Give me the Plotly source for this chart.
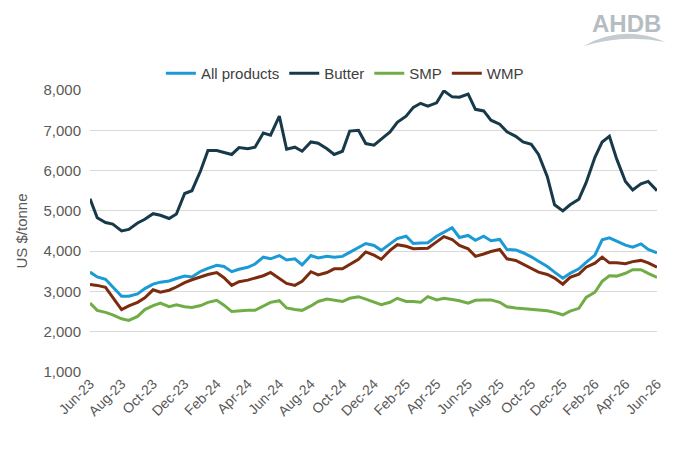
import pandas as pd
import plotly.graph_objects as go

# Semi-monthly observation dates, Jun-23 to Jun-26
dates = pd.date_range("2023-06-01", "2026-06-01", freq="SMS")

all_products = [3480, 3360, 3300, 3110, 2880, 2880, 2940, 3070, 3180, 3230, 3260, 3320, 3380, 3360, 3500,
                3570, 3650, 3620, 3490, 3550, 3600, 3680, 3850, 3810, 3890, 3780, 3810, 3660, 3890, 3830,
                3870, 3850, 3870, 3970, 4090, 4190, 4140, 4020, 4180, 4310, 4370, 4190, 4200, 4210, 4370,
                4470, 4580, 4340, 4390, 4270, 4370, 4260, 4290, 4040, 4030, 3960, 3860, 3750, 3620, 3480,
                3330, 3450, 3560, 3720, 3900, 4280, 4330, 4250, 4150, 4100, 4180, 4040, 3960]

butter = [5300, 4830, 4710, 4670, 4500, 4540, 4700, 4790, 4930, 4890, 4810, 4920, 5430, 5500, 6000,
          6500, 6500, 6460, 6400, 6570, 6540, 6580, 6930, 6880, 7350, 6530, 6580, 6480, 6710, 6680,
          6540, 6400, 6480, 6980, 7000, 6670, 6630, 6780, 6960, 7200, 7350, 7570, 7670, 7600, 7680,
          7980, 7830, 7820, 7900, 7520, 7480, 7250, 7150, 6960, 6850, 6710, 6650, 6400, 5850, 5150,
          5000, 5150, 5290, 5700, 6330, 6710, 6850, 6290, 5730, 5520, 5670, 5730, 5500]

smp = [2710, 2530, 2480, 2420, 2320, 2280, 2380, 2550, 2650, 2710, 2620, 2670, 2620, 2600, 2650,
       2730, 2780, 2660, 2500, 2520, 2530, 2530, 2640, 2730, 2770, 2590, 2550, 2530, 2640, 2750,
       2810, 2780, 2750, 2830, 2870, 2810, 2730, 2670, 2730, 2830, 2750, 2750, 2730, 2870, 2790,
       2830, 2800, 2770, 2710, 2780, 2790, 2790, 2730, 2620, 2590, 2570, 2550, 2540, 2520, 2480,
       2420, 2510, 2580, 2850, 2980, 3250, 3390, 3380, 3450, 3540, 3540, 3450, 3350]

wmp = [3170, 3150, 3100, 2860, 2550, 2640, 2730, 2840, 3040, 2980, 3030, 3110, 3220, 3290, 3360,
       3420, 3470, 3340, 3150, 3240, 3280, 3330, 3390, 3470, 3330, 3200, 3150, 3250, 3490, 3410,
       3470, 3560, 3560, 3660, 3800, 3980, 3900, 3800, 4020, 4160, 4120, 4060, 4060, 4070, 4230,
       4360, 4290, 4140, 4060, 3870, 3930, 3990, 4040, 3810, 3770, 3680, 3580, 3480, 3420, 3330,
       3180, 3350, 3430, 3600, 3700, 3850, 3710, 3710, 3690, 3740, 3770, 3710, 3600]

series_names = ["All products", "Butter", "SMP", "WMP"]
series_values = [all_products, butter, smp, wmp]
series_colors = ["#1b9ad6", "#17394a", "#70ad47", "#7b2c0e"]

y_ticks = [1000, 2000, 3000, 4000, 5000, 6000, 7000, 8000]

fig = go.Figure()
for name, vals, col in zip(series_names, series_values, series_colors):
    fig.add_trace(go.Scatter(x=dates, y=vals, mode="lines", name=name,
                             line=dict(color=col, width=3)))

fig.update_layout(
    width=682, height=468,
    margin=dict(l=90, r=25, t=90, b=96),
    paper_bgcolor="white", plot_bgcolor="white",
    font=dict(family="Liberation Sans, Arial, sans-serif", color="#595959", size=14),
    legend=dict(orientation="h", x=0.125, y=1.0, xanchor="left", yanchor="bottom",
                font=dict(size=15, color="#404040"), itemwidth=30, tracegroupgap=0),
    showlegend=True,
)
fig.update_xaxes(
    type="date", range=[dates[0], dates[-1]], dtick="M2", tick0=dates[0],
    tickformat="%b-%y", tickangle=-45, showgrid=False, showline=False,
    ticks="", tickfont=dict(size=14, color="#595959"),
)
fig.update_yaxes(
    range=[1000, 8000], tickvals=y_ticks, tickformat=",", showgrid=True,
    gridcolor="#d9d9d9", gridwidth=1, zeroline=False, showline=False,
    tickfont=dict(size=15, color="#595959"), ticklabelstandoff=8,
    title=dict(text="US $/tonne", font=dict(size=15, color="#595959"), standoff=12),
)

# AHDB logo
fig.add_annotation(text="<b>AHDB</b>", xref="paper", yref="paper", x=1.01, y=1.29,
                   xanchor="right", yanchor="top", showarrow=False,
                   font=dict(size=24, color="#b5bdc3", family="Liberation Sans, Arial"))
fig.add_shape(type="path", xref="paper", yref="paper",
              path="M 0.87,1.155 Q 0.94,1.2 1.015,1.17 Q 0.94,1.235 0.87,1.155 Z",
              fillcolor="#c5ccd1", line=dict(width=0))

fig.write_html("out.html")
